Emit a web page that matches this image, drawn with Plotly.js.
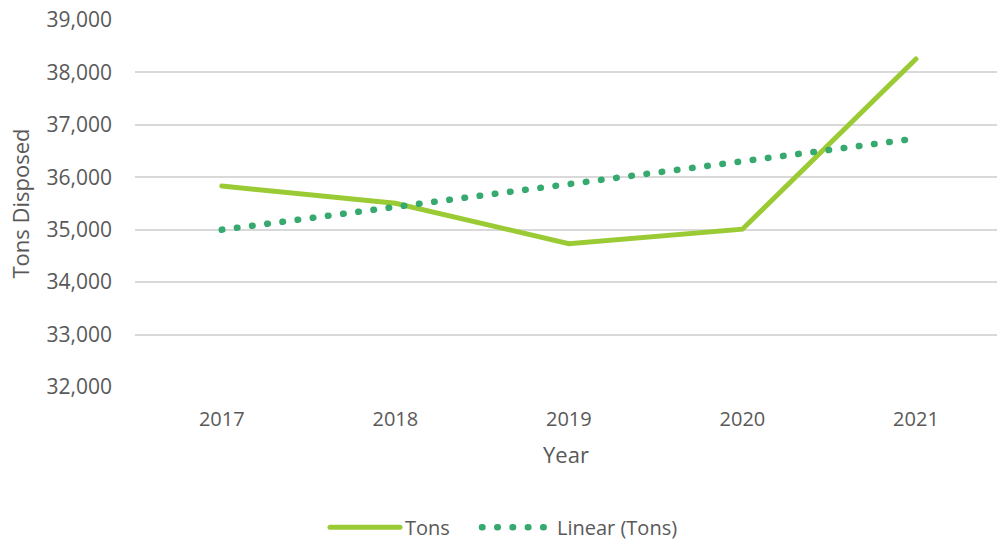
<!DOCTYPE html>
<html>
<head>
<meta charset="utf-8">
<script src="https://cdn.plot.ly/plotly-3.0.1.min.js"></script>
<style>
  html, body { margin: 0; padding: 0; background: #fff; }
  #chart { width: 997px; height: 539px; }
  .js-line, .legendlines path { stroke-linecap: round; }
</style>
</head>
<body>
<div id="chart"></div>
<script>
const years = ["2017", "2018", "2019", "2020", "2021"];
const tons = [35834, 35505, 34733, 35010, 38257];
const linearTons = [35000, 35435, 35870, 36305, 36740];
const yTickVals = [32000, 33000, 34000, 35000, 36000, 37000, 38000, 39000];

const fontFam = "'Open Sans', 'Noto Sans', sans-serif";
const textColor = "#595959";

const traces = [
  {
    x: years, y: tons, name: "Tons", type: "scatter", mode: "lines",
    line: { color: "#9ACB34", width: 5 }, hoverinfo: "x+y", legend: "legend"
  },
  {
    x: years, y: linearTons, name: "Linear (Tons)", type: "scatter", mode: "lines",
    line: { color: "#36A96E", width: 6.5, dash: "0.5px,14.8px" }, hoverinfo: "x+y", legend: "legend2"
  }
];

const legendFont = { family: fontFam, size: 20, color: textColor };

const layout = {
  width: 997, height: 539,
  margin: { l: 135, r: 0, t: 20, b: 152 },
  paper_bgcolor: "#ffffff", plot_bgcolor: "#ffffff",
  font: { family: fontFam, color: textColor, size: 20 },
  showlegend: true,
  legend: {
    orientation: "h", xref: "container", yref: "container",
    x: 0.326, xanchor: "left", y: 0.022, yanchor: "middle",
    font: legendFont, itemwidth: 70
  },
  legend2: {
    orientation: "h", xref: "container", yref: "container",
    x: 0.4784, xanchor: "left", y: 0.022, yanchor: "middle",
    font: legendFont, itemwidth: 70
  },
  xaxis: {
    type: "category", range: [-0.5, 4.467],
    showgrid: false, zeroline: false, showline: false, ticks: "",
    tickfont: { family: fontFam, size: 20, color: textColor },
    ticklabelstandoff: 18,
    title: { text: "Year", font: { family: fontFam, size: 22, color: textColor }, standoff: 16 },
    fixedrange: true
  },
  yaxis: {
    range: [32000, 39000], tickvals: yTickVals,
    tickformat: ",d",
    showgrid: true, gridcolor: "#d9d9d9", gridwidth: 1.5,
    zeroline: false, showline: false, ticks: "",
    tickfont: { family: fontFam, size: 21, color: textColor },
    ticklabelstandoff: 22,
    title: { text: "Tons Disposed", font: { family: fontFam, size: 22, color: textColor }, standoff: 10 },
    fixedrange: true
  }
};

Plotly.newPlot("chart", traces, layout, { displayModeBar: false, staticPlot: false });
</script>
</body>
</html>
